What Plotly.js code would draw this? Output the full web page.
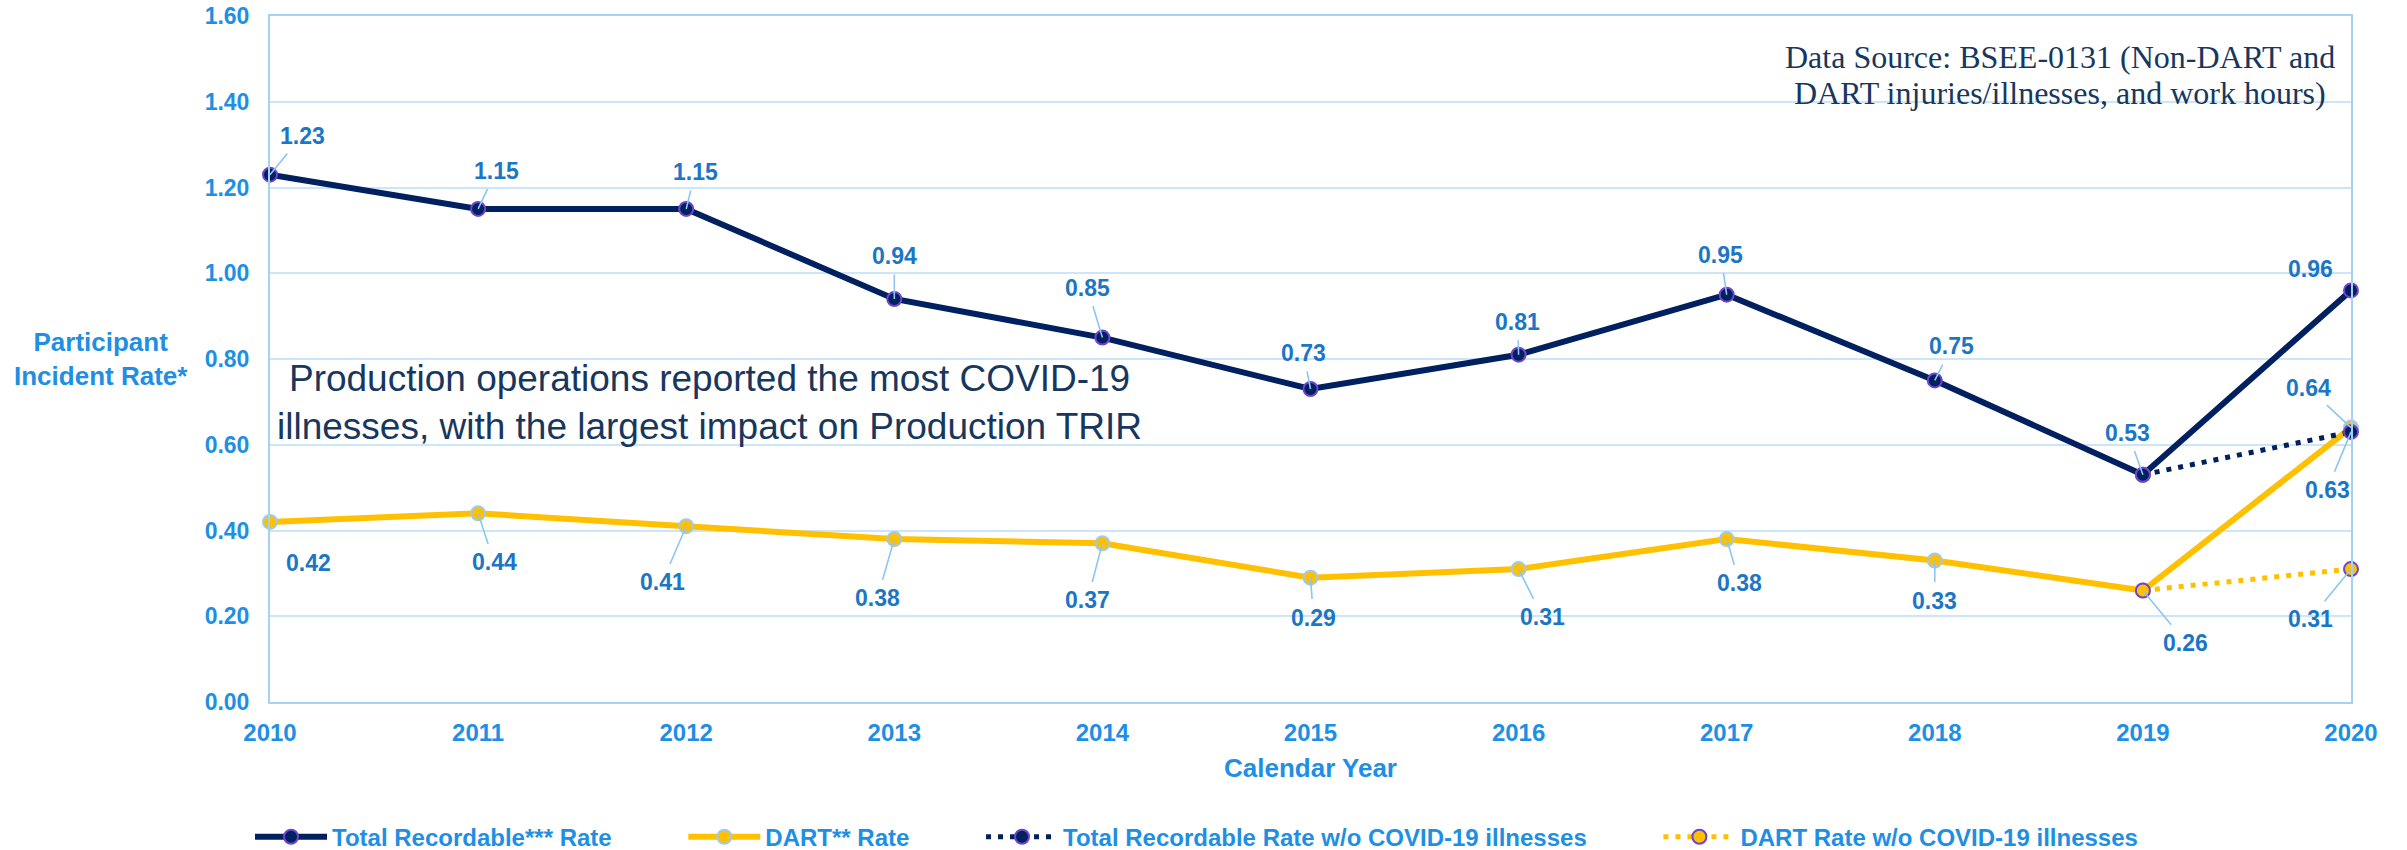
<!DOCTYPE html>
<html>
<head>
<meta charset="utf-8">
<script src="https://cdn.plot.ly/plotly-3.0.1.min.js"></script>
<style>
html,body{margin:0;padding:0;background:#ffffff;}
#chart{width:2407px;height:850px;}
</style>
</head>
<body>
<div id="chart"></div>
<script>
// ---- data ----
const years = [2010, 2011, 2012, 2013, 2014, 2015, 2016, 2017, 2018, 2019, 2020];
const yearLabels = ['2010','2011','2012','2013','2014','2015','2016','2017','2018','2019','2020'];
const totalRate = [1.23, 1.15, 1.15, 0.94, 0.85, 0.73, 0.81, 0.95, 0.75, 0.53, 0.96];
const dartRate = [0.42, 0.44, 0.41, 0.38, 0.37, 0.29, 0.31, 0.38, 0.33, 0.26, 0.64];
const covidYears = [2019, 2020];
const totalNoCovid = [0.53, 0.63];
const dartNoCovid = [0.26, 0.31];
const yTickVals = [0, 0.2, 0.4, 0.6, 0.8, 1.0, 1.2, 1.4, 1.6];
const seriesNames = [
  'Total Recordable*** Rate',
  'DART** Rate',
  'Total Recordable Rate w/o COVID-19 illnesses',
  'DART Rate w/o COVID-19 illnesses'
];

// ---- label placement (pixel offsets of data labels from their points) ----
const totalLabelOffsets = [[32,-39],[18,-38],[9,-37],[0,-43],[-15,-50],[-7,-36],[-1,-33],[-6,-40],[17,-34],[-15,-42],[-41,-21]];
const totalLeader = [true,true,true,true,true,true,true,true,true,true,false];
const dartLabelOffsets = [[38,41],[16,49],[-24,56],[-17,59],[-15,57],[3,40],[24,48],[13,44],[0,40],[43,52],[-43,-40]];
const dartLeader = [false,true,true,true,true,true,true,true,true,true,true];
const totalNoCovidLabelOffsets = [null, [-24,58]];
const dartNoCovidLabelOffsets = [null, [-41,50]];

// ---- styles ----
const SANS = 'Arial, "Liberation Sans", sans-serif';
const SERIF = '"Times New Roman", "Liberation Serif", serif';
const TICK_BLUE = '#1E8FE4';
const LABEL_BLUE = '#1B76C6';
const LEADER_BLUE = '#8CC6F2';
const NAVY = '#002060';
const GOLD = '#FFC000';
const PURPLE = '#6E45CC';
const TEXT_NAVY = '#17375E';
const GRID = '#CCE5F8';
const AXIS = '#A6D1F3';
const LEGEND_PAD = '\u00A0'.repeat(10);
const LEGEND_SYMBOL_LEN = 72;

const traces = [
  {
    x: years, y: totalRate, name: seriesNames[0] + LEGEND_PAD, type: 'scatter', mode: 'lines+markers',
    line: {color: NAVY, width: 6},
    marker: {color: NAVY, size: 14, line: {color: PURPLE, width: 2}},
    cliponaxis: false, hoverinfo: 'x+y'
  },
  {
    x: years, y: dartRate, name: seriesNames[1] + LEGEND_PAD, type: 'scatter', mode: 'lines+markers',
    line: {color: GOLD, width: 6},
    marker: {color: GOLD, size: 14, line: {color: '#9CCBF0', width: 2}},
    cliponaxis: false, hoverinfo: 'x+y'
  },
  {
    x: covidYears, y: totalNoCovid, name: seriesNames[2] + LEGEND_PAD, type: 'scatter', mode: 'lines+markers',
    line: {color: NAVY, width: 5, dash: '5px,7px'},
    marker: {color: NAVY, size: 14, line: {color: PURPLE, width: 2}},
    cliponaxis: false, hoverinfo: 'x+y'
  },
  {
    x: covidYears, y: dartNoCovid, name: seriesNames[3], type: 'scatter', mode: 'lines+markers',
    line: {color: GOLD, width: 5, dash: '5px,7px'},
    marker: {color: GOLD, size: 14, line: {color: PURPLE, width: 2}},
    cliponaxis: false, hoverinfo: 'x+y'
  }
];

const annotations = [];
function addLabels(xs, ys, offsets, leaders) {
  xs.forEach(function (xv, i) {
    const off = offsets[i];
    if (!off) return;
    const showLine = leaders ? leaders[i] : true;
    annotations.push({
      x: xv, y: ys[i], xref: 'x', yref: 'y',
      text: ys[i].toFixed(2),
      showarrow: true, arrowhead: 0, arrowwidth: 1.6,
      arrowcolor: showLine ? LEADER_BLUE : 'rgba(0,0,0,0)',
      ax: off[0], ay: off[1], axref: 'pixel', ayref: 'pixel',
      standoff: 0, startstandoff: 3, borderpad: 2,
      font: {family: SANS, size: 23, color: LABEL_BLUE, weight: 700}
    });
  });
}
addLabels(years, totalRate, totalLabelOffsets, totalLeader);
addLabels(years, dartRate, dartLabelOffsets, dartLeader);
addLabels(covidYears, totalNoCovid, totalNoCovidLabelOffsets, null);
addLabels(covidYears, dartNoCovid, dartNoCovidLabelOffsets, null);

// y-axis title (horizontal, left of ticks)
annotations.push({
  xref: 'paper', yref: 'paper', x: -0.0812, y: 0.5, xanchor: 'center', yanchor: 'middle',
  text: 'Participant<br>Incident Rate*', showarrow: false, align: 'center',
  font: {family: SANS, size: 26, color: TICK_BLUE, weight: 700}
});
// in-chart note
annotations.push({
  xref: 'paper', yref: 'paper', x: 0.2114, y: 0.4373, xanchor: 'center', yanchor: 'middle',
  text: 'Production operations reported the most COVID-19<br>illnesses, with the largest impact on Production TRIR',
  showarrow: false, align: 'center',
  font: {family: SANS, size: 37, color: TEXT_NAVY}
});
// data source note (two lines)
annotations.push({
  xref: 'paper', yref: 'paper', x: 0.8602, y: 0.9402, xanchor: 'center', yanchor: 'middle',
  text: 'Data Source: BSEE-0131 (Non-DART and', showarrow: false,
  font: {family: SERIF, size: 32, color: TEXT_NAVY}
});
annotations.push({
  xref: 'paper', yref: 'paper', x: 0.8602, y: 0.8878, xanchor: 'center', yanchor: 'middle',
  text: 'DART injuries/illnesses, and work hours)', showarrow: false,
  font: {family: SERIF, size: 32, color: TEXT_NAVY}
});

const layout = {
  width: 2407, height: 850,
  margin: {l: 270, r: 56, t: 16, b: 148, pad: 0, autoexpand: false},
  paper_bgcolor: '#ffffff', plot_bgcolor: '#ffffff',
  showlegend: true,
  xaxis: {
    type: 'linear', range: [2010, 2020], tickvals: years, ticktext: yearLabels,
    showgrid: false, zeroline: false,
    showline: true, linecolor: AXIS, linewidth: 2, mirror: true,
    ticks: '', ticklabelstandoff: 8,
    tickfont: {family: SANS, size: 24, color: TICK_BLUE, weight: 700},
    title: {text: 'Calendar Year', standoff: 14, font: {family: SANS, size: 26, color: TICK_BLUE, weight: 700}},
    automargin: false, fixedrange: true
  },
  yaxis: {
    range: [0, 1.6], tickvals: yTickVals, tickformat: '.2f',
    showgrid: true, gridcolor: GRID, gridwidth: 2,
    zeroline: false,
    showline: true, linecolor: AXIS, linewidth: 2, mirror: true,
    ticks: '', ticklabelstandoff: 14,
    tickfont: {family: SANS, size: 23, color: TICK_BLUE, weight: 700},
    automargin: false, fixedrange: true
  },
  legend: {
    orientation: 'h', x: -0.0096, xanchor: 'left', y: -0.197, yanchor: 'middle',
    bgcolor: 'rgba(0,0,0,0)', traceorder: 'normal', itemwidth: LEGEND_SYMBOL_LEN,
    font: {family: SANS, size: 24, color: TICK_BLUE, weight: 700}
  },
  annotations: annotations
};

const gd = document.getElementById('chart');
Plotly.newPlot(gd, traces, layout, {displayModeBar: false, staticPlot: true}).then(function () {
  // stretch legend line glyphs to fill the symbol area
  gd.querySelectorAll('.legend .traces').forEach(function (tr) {
    tr.querySelectorAll('.legendlines path').forEach(function (p) {
      p.setAttribute('d', 'M5,0h' + LEGEND_SYMBOL_LEN);
    });
    tr.querySelectorAll('.legendpoints path').forEach(function (p) {
      p.setAttribute('transform', 'translate(' + (5 + LEGEND_SYMBOL_LEN / 2) + ',0)');
    });
  });
});
</script>
</body>
</html>
